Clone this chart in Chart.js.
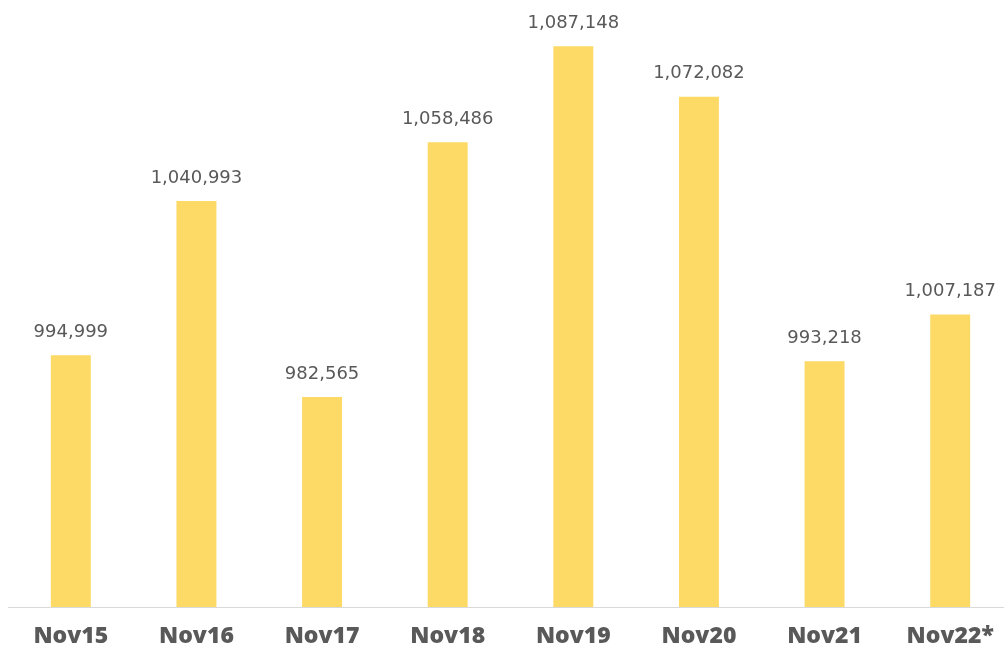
<!DOCTYPE html>
<html>
<head>
<meta charset="utf-8">
<script src="https://cdn.jsdelivr.net/npm/chart.js@4/dist/chart.umd.min.js"></script>
<style>
  html, body { margin: 0; padding: 0; background: #fff; overflow: hidden; }
  #wrap { width: 1013px; height: 666px; position: relative; }
</style>
</head>
<body>
<div id="wrap"><canvas id="chart"></canvas></div>
<script>
  const years = ['Nov15', 'Nov16', 'Nov17', 'Nov18', 'Nov19', 'Nov20', 'Nov21', 'Nov22*'];
  const totals = [994999, 1040993, 982565, 1058486, 1087148, 1072082, 993218, 1007187];

  // draws the number above each bar
  const valueLabels = {
    id: 'valueLabels',
    afterDatasetsDraw(chart) {
      const { ctx } = chart;
      const meta = chart.getDatasetMeta(0);
      ctx.save();
      ctx.font = '18px "DejaVu Sans", sans-serif';
      ctx.fillStyle = '#595959';
      ctx.textAlign = 'center';
      ctx.textBaseline = 'middle';
      meta.data.forEach((bar, i) => {
        ctx.fillText(totals[i].toLocaleString('en-US'), bar.x, bar.y - 23);
      });
      ctx.restore();
    },
  };

  new Chart(document.getElementById('chart'), {
    type: 'bar',
    data: {
      labels: years,
      datasets: [
        {
          data: totals,
          backgroundColor: '#fdd966',
          barPercentage: 0.318,
          categoryPercentage: 1,
        },
      ],
    },
    options: {
      responsive: true,
      maintainAspectRatio: false,
      animation: false,
      layout: {
        padding: { left: 8, right: 0, top: 3, bottom: 0 },
      },
      plugins: {
        legend: { display: false },
        tooltip: { enabled: false },
      },
      scales: {
        x: {
          grid: { display: false, drawTicks: false },
          border: { color: '#d9d9d9', width: 1 },
          ticks: {
            color: '#595959',
            padding: 18,
            font: { family: '"Open Sans", sans-serif', size: 23, weight: 800, lineHeight: 1 },
          },
        },
        y: {
          display: false,
          min: 920000,
          max: 1100000,
        },
      },
    },
    plugins: [valueLabels],
  });
</script>
</body>
</html>
